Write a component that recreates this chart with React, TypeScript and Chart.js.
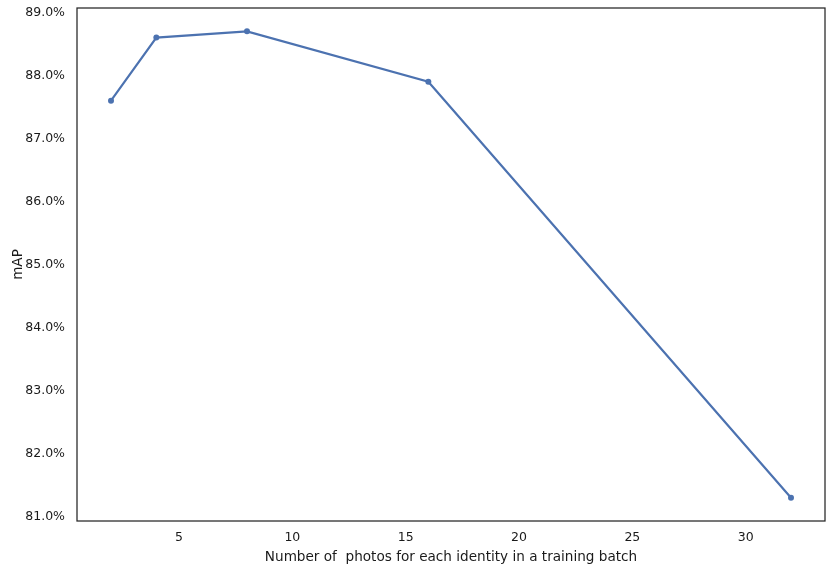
import React, { useEffect, useRef } from "react";
import { Chart, registerables } from "chart.js";

Chart.register(...registerables);

const photosPerIdentity = [2, 4, 8, 16, 32];
const mapValues = [87.6, 88.6, 88.7, 87.9, 81.3];
const xTickValues = [5, 10, 15, 20, 25, 30];
const yTickValues = [81, 82, 83, 84, 85, 86, 87, 88, 89];

const FONT = "'DejaVu Sans', sans-serif";

const framePlugin = {
  id: "frame",
  afterDraw(chart: any) {
    const { ctx, chartArea } = chart;
    ctx.save();
    ctx.strokeStyle = "#262626";
    ctx.lineWidth = 1.25;
    ctx.strokeRect(chartArea.left, chartArea.top, chartArea.right - chartArea.left, chartArea.bottom - chartArea.top);
    ctx.restore();
  },
};

export default function App() {
  const ref = useRef<HTMLCanvasElement>(null);
  useEffect(() => {
    if (!ref.current) return;
    const chart = new Chart(ref.current, {
      type: "line",
      data: {
        datasets: [
          {
            data: photosPerIdentity.map((x, i) => ({ x, y: mapValues[i] })),
            borderColor: "#4c72b0",
            backgroundColor: "#4c72b0",
            borderWidth: 2.2,
            pointRadius: 3,
            pointBorderWidth: 0,
            pointBackgroundColor: "#4c72b0",
            tension: 0,
          },
        ],
      },
      options: {
        animation: false,
        responsive: false,
        maintainAspectRatio: false,
        layout: { padding: { top: 8, right: 6, left: 0, bottom: 0 } },
        plugins: { legend: { display: false }, tooltip: { enabled: false } },
        scales: {
          x: {
            type: "linear",
            min: 0.5,
            max: 33.5,
            afterBuildTicks: (axis: any) => {
              axis.ticks = xTickValues.map((v) => ({ value: v }));
            },
            afterFit: (axis: any) => {
              axis.height = 50;
              axis.paddingLeft = 0;
              axis.paddingRight = 0;
            },
            grid: { display: false, drawTicks: false },
            border: { display: false },
            ticks: {
              padding: 9,
              color: "#1a1a1a",
              font: { family: FONT, size: 12.5 },
              maxRotation: 0,
              callback: (v: any) => String(v),
            },
            title: {
              display: true,
              text: "Number of  photos for each identity in a training batch",
              color: "#1a1a1a",
              font: { family: FONT, size: 13.6 },
              padding: { top: 0, bottom: 5 },
            },
          },
          y: {
            type: "linear",
            min: 80.93,
            max: 89.07,
            afterBuildTicks: (axis: any) => {
              axis.ticks = yTickValues.map((v) => ({ value: v }));
            },
            afterFit: (axis: any) => {
              axis.width = 77;
              axis.paddingTop = 0;
              axis.paddingBottom = 0;
            },
            grid: { display: false, drawTicks: false },
            border: { display: false },
            ticks: {
              padding: 12,
              color: "#1a1a1a",
              font: { family: FONT, size: 12.5 },
              callback: (v: any) => Number(v).toFixed(1) + "%",
            },
            title: {
              display: true,
              text: "mAP",
              color: "#1a1a1a",
              font: { family: FONT, size: 13.6 },
              padding: { top: 10, bottom: 0 },
            },
          },
        },
      },
      plugins: [framePlugin],
    } as any);
    return () => chart.destroy();
  }, []);
  return (
    <div style={{ position: "fixed", left: 0, top: 0, width: 831, height: 571, background: "#fff" }}>
      <canvas ref={ref} width={831} height={571} style={{ width: 831, height: 571 }} />
    </div>
  );
}
